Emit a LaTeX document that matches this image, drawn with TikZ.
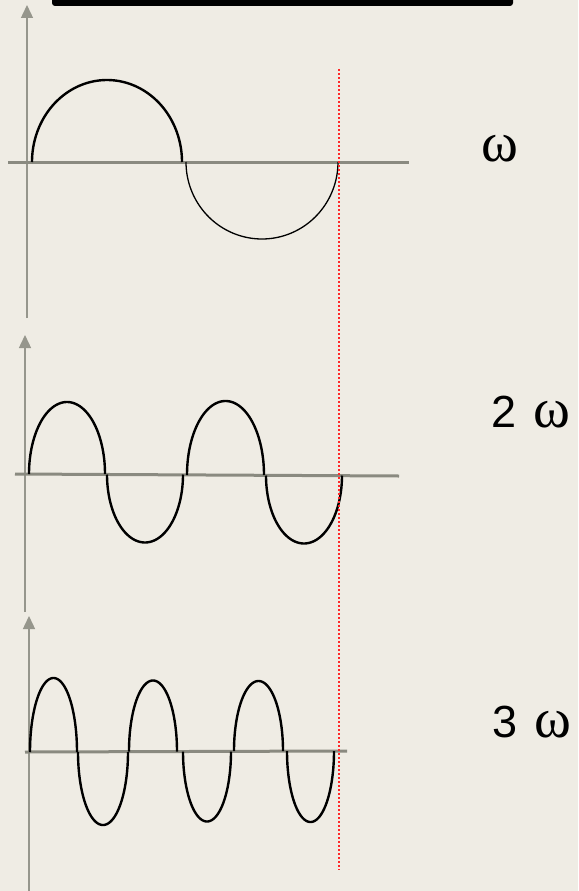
\documentclass[tikz,border=0pt]{standalone}
\usepackage{fontspec}
\setmainfont{Liberation Sans}
\newfontfamily\grk{Liberation Serif}
\usetikzlibrary{arrows.meta}
\definecolor{bg}{RGB}{239,236,228}
\definecolor{axgray}{RGB}{138,138,128}
\definecolor{vaxgray}{RGB}{150,150,140}
\definecolor{reddot}{RGB}{255,40,40}
\tikzset{
  haxis/.style={draw=axgray, line width=3pt},
  vaxis/.style={draw=vaxgray, line width=1.4pt, -{Triangle[width=12pt,length=13pt]}},
  wave/.style={draw=black, line width=2.4pt},
  thinwave/.style={draw=black, line width=1.3pt},
  lbl/.style={anchor=base west, inner sep=0pt, font=\fontsize{45}{54}\selectfont},
}
\newcommand{\om}{{\grk\fontsize{56}{60}\selectfont ω}}
% upward arch: left x, right x, base y, height
\newcommand{\uparch}[5][wave]{%
  \draw[#1] plot[domain=180:0, samples=80, smooth] ({(#2+#3)/2 + (#3-#2)/2*cos(\x)}, {#4 - #5*sin(\x)});}
\newcommand{\downarch}[5][wave]{%
  \draw[#1] plot[domain=180:0, samples=80, smooth] ({(#2+#3)/2 + (#3-#2)/2*cos(\x)}, {#4 + #5*sin(\x)});}
\begin{document}
\begin{tikzpicture}[x=1pt, y=-1pt]
\fill[bg] (0,0) rectangle (578,891);
\useasboundingbox (0,0) rectangle (578,891);
% top bar
\fill[black, rounded corners=3pt] (52,-6) rectangle (513,6);

% panel 1
\coordinate (v1s) at (27,318); \coordinate (v1e) at (27,5);
\draw[vaxis] (v1s) -- (v1e);
\coordinate (h1s) at (8,162); \coordinate (h1e) at (409,162);
\draw[haxis] (h1s) -- (h1e);
\uparch{32}{182}{162}{82}
\downarch[thinwave]{186}{338}{162}{77}
\node[lbl] (w1) at (481,161) {\om};

% panel 2
\coordinate (v2s) at (25,612); \coordinate (v2e) at (25,335);
\draw[vaxis] (v2s) -- (v2e);
\coordinate (h2s) at (15,474); \coordinate (h2e) at (399,476);
\draw[haxis] (h2s) -- (h2e);
\uparch{29}{105}{474}{72}
\downarch{107}{183}{474.5}{68}
\uparch{187}{264}{475}{74}
\downarch{266}{342}{475.5}{68}
\node[lbl] (w2) at (491,427) {2\hspace{17pt}\om};

% panel 3
\coordinate (v3s) at (29,891); \coordinate (v3e) at (29,616);
\draw[vaxis] (v3s) -- (v3e);
\coordinate (h3s) at (25,752); \coordinate (h3e) at (347,751);
\draw[haxis] (h3s) -- (h3e);
\uparch{30}{77}{752}{74}
\downarch{78}{128}{752}{73}
\uparch{129}{177}{751.5}{71}
\downarch{183}{231}{751.5}{70}
\uparch{234}{283}{751}{70}
\downarch{287}{334}{751}{71}
\node[lbl] (w3) at (492,737) {3\hspace{17pt}\om};

% red dotted line
\coordinate (r1) at (339,69); \coordinate (r2) at (339,870);
\draw[reddot, line width=1.3pt, dash pattern=on 2pt off 2pt] (r1) -- (r2);
\end{tikzpicture}
\end{document}
